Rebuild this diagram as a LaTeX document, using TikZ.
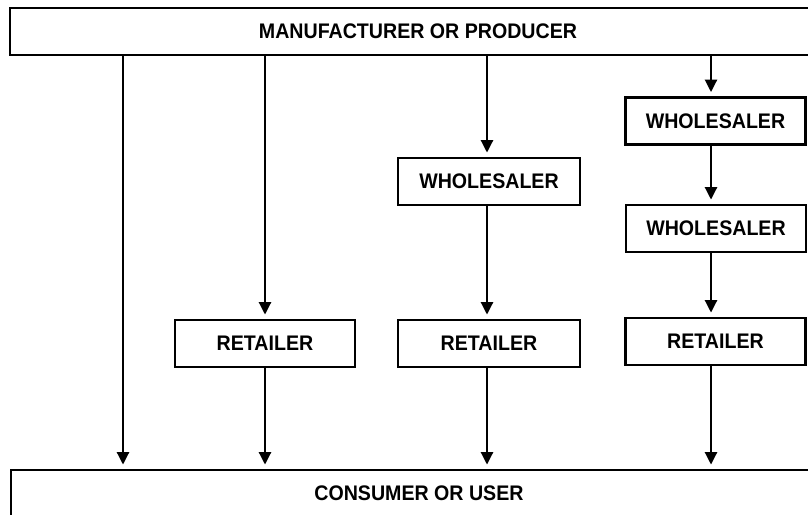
\documentclass[tikz,border=0pt]{standalone}
\usepackage{fontspec}
\setmainfont[FakeStretch=0.93]{Liberation Sans}
\usetikzlibrary{arrows.meta}
\begin{document}
\begin{tikzpicture}[x=0.02cm, y=-0.02cm, font=\bfseries\fontsize{12}{14}\selectfont,
  box/.style={draw, line width=1.6pt, inner sep=0pt, minimum width=3.6cm, minimum height=0.94cm},
  wide/.style={box, minimum width=16.32cm},
  arr/.style={line width=1.35pt, -{Triangle[width=0.24cm,length=0.25cm]}, shorten >=0.08cm}]
\useasboundingbox (0,0) rectangle (808,514);
\clip (0,0) rectangle (808,514);
\node[wide] (maker) at (418,31.5) {MANUFACTURER OR PRODUCER};
\node[wide] (user) at (419,493.5) {CONSUMER OR USER};
\node[box] (ret1) at (265,343.5) {RETAILER};
\node[box, minimum width=3.64cm] (whl1) at (489,181.5) {WHOLESALER};
\node[box, minimum width=3.64cm] (ret2) at (489,343.5) {RETAILER};
\node[box] (whl2) at (715.5,121) {WHOLESALER};
\node[box] (whl3) at (716,228.5) {WHOLESALER};
\node[box] (ret3) at (715.5,341.5) {RETAILER};
\coordinate (c1) at (123,0);
\coordinate (c2) at (265,0);
\coordinate (c3) at (487,0);
\coordinate (c4) at (711,0);
% direct
\draw[arr] (c1 |- maker.south) -- (c1 |- user.north);
% one step
\draw[arr] (c2 |- maker.south) -- (c2 |- ret1.north);
\draw[arr] (c2 |- ret1.south) -- (c2 |- user.north);
% two steps
\draw[arr] (c3 |- maker.south) -- (c3 |- whl1.north);
\draw[arr] (c3 |- whl1.south) -- (c3 |- ret2.north);
\draw[arr] (c3 |- ret2.south) -- (c3 |- user.north);
% three steps
\draw[arr] (c4 |- maker.south) -- (c4 |- whl2.north);
\draw[arr] (c4 |- whl2.south) -- (c4 |- whl3.north);
\draw[arr] (c4 |- whl3.south) -- (c4 |- ret3.north);
\draw[arr] (c4 |- ret3.south) -- (c4 |- user.north);
\end{tikzpicture}
\end{document}
